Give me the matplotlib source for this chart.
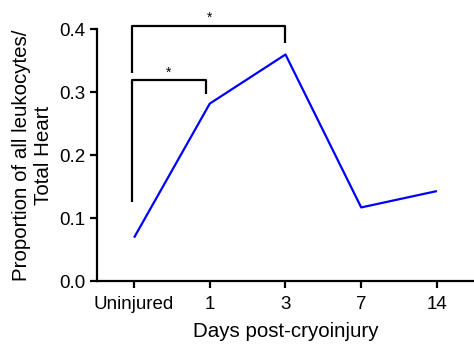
import matplotlib
matplotlib.use("Agg")
import matplotlib.pyplot as plt

categories = ["Uninjured", "1", "3", "7", "14"]
values = [0.069, 0.282, 0.360, 0.117, 0.143]
yticks = [0.0, 0.1, 0.2, 0.3, 0.4]
ytick_labels = ["0.0", "0.1", "0.2", "0.3", "0.4"]

plt.rcParams['font.family'] = ['Liberation Sans', 'DejaVu Sans']

fig = plt.figure(figsize=(4.74, 3.47), dpi=100)
ax = fig.add_axes([0.2046, 0.190, 0.7954, 0.7255])
x = list(range(len(categories)))
ax.plot(x, values, color="#0000ff", lw=1.6, solid_capstyle='butt')

ax.set_xlim(-0.49, 4.49)
ax.set_ylim(0, 0.4)
ax.set_xticks(x)
ax.set_xticklabels(categories)
ax.set_yticks(yticks)
ax.set_yticklabels(ytick_labels)
for s in ["top", "right"]:
    ax.spines[s].set_visible(False)
for s in ["left", "bottom"]:
    ax.spines[s].set_linewidth(1.6)
ax.tick_params(axis='both', width=1.6, length=5, labelsize=13.5, colors='black', pad=3)
ax.tick_params(axis='x', pad=6)
ax.set_xlabel("Days post-cryoinjury", fontsize=14.8, labelpad=6)
ax.set_ylabel("Proportion of all leukocytes/\nTotal Heart", fontsize=14.8, labelpad=5, linespacing=1.15)

# significance brackets
kw = dict(color='black', lw=1.6, clip_on=False, solid_capstyle='butt')
ax.plot([-0.03, -0.03, 2.0, 2.0], [0.331, 0.406, 0.406, 0.378], **kw)
ax.plot([-0.03, -0.03, 0.95, 0.95], [0.126, 0.320, 0.320, 0.298], **kw)
ax.text(1.0, 0.407, "*", ha='center', va='bottom', fontsize=10, clip_on=False)
ax.text(0.46, 0.320, "*", ha='center', va='bottom', fontsize=10, clip_on=False)

fig.savefig("out.png", dpi=100)
